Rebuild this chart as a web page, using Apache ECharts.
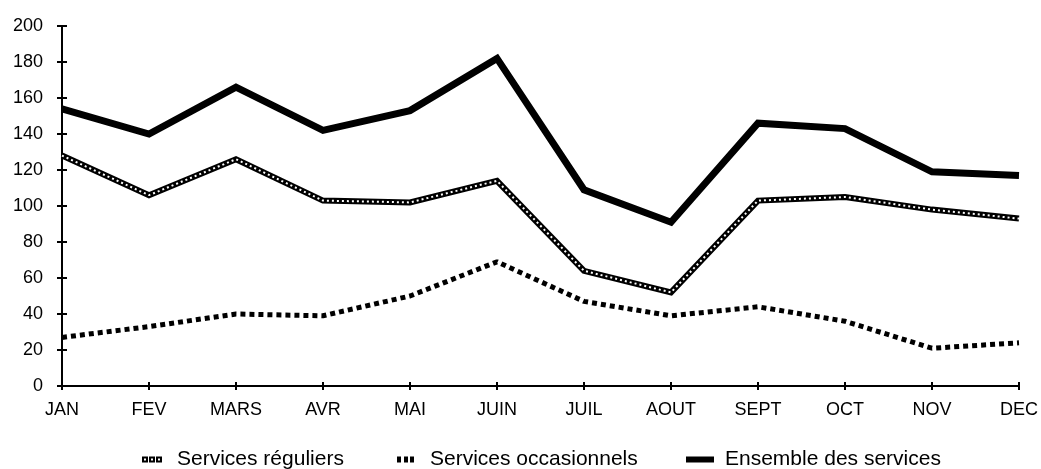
<!DOCTYPE html>
<html>
<head>
<meta charset="utf-8">
<script src="https://cdn.jsdelivr.net/npm/echarts@6/dist/echarts.min.js"></script>
<style>html,body{margin:0;padding:0;background:#fff}#c{width:1041px;height:469px}</style>
</head>
<body>
<div id="c"></div>
<script>
const months = ['JAN','FEV','MARS','AVR','MAI','JUIN','JUIL','AOUT','SEPT','OCT','NOV','DEC'];
const reguliers = [128, 106, 126, 103, 102, 114, 64, 52, 103, 105, 98, 93];
const occasionnels = [27, 33, 40, 39, 50, 69, 47, 39, 44, 36, 21, 24];
const ensemble = [154, 140, 166, 142, 153, 182, 109, 91, 146, 143, 119, 117];
const yTicks = [0, 20, 40, 60, 80, 100, 120, 140, 160, 180, 200];

const FONT = '"Liberation Sans", Arial, sans-serif';
const chart = echarts.init(document.getElementById('c'), null, {renderer: 'canvas'});

const baseX = {
  type: 'category', data: months, boundaryGap: false,
  axisLine: {lineStyle: {color: '#000', width: 2}},
  splitLine: {show: false}
};
const baseY = {
  type: 'value', min: yTicks[0], max: yTicks[yTicks.length - 1], interval: 20,
  axisLine: {show: true, lineStyle: {color: '#000', width: 2}},
  splitLine: {show: false}
};
function legendText(padLeft) {
  return {color: '#000', fontSize: 21, fontFamily: FONT, padding: [0, 0, 0, padLeft]};
}

chart.setOption({
  animation: false,
  grid: {left: 62, right: 22, top: 26, bottom: 83},
  xAxis: [
    Object.assign({}, baseX, {
      axisTick: {show: true, inside: false, length: 4, lineStyle: {color: '#000', width: 2}},
      axisLabel: {color: '#000', fontSize: 18, fontFamily: FONT, margin: 15}
    }),
    Object.assign({}, baseX, {
      position: 'bottom',
      axisTick: {show: true, inside: true, length: 4, lineStyle: {color: '#000', width: 2}},
      axisLabel: {show: false}
    })
  ],
  yAxis: [
    Object.assign({}, baseY, {
      axisTick: {show: true, inside: false, length: 5, lineStyle: {color: '#000', width: 2}},
      axisLabel: {color: '#000', fontSize: 18, fontFamily: FONT, margin: 19}
    }),
    Object.assign({}, baseY, {
      position: 'left',
      axisTick: {show: true, inside: true, length: 5, lineStyle: {color: '#000', width: 2}},
      axisLabel: {show: false}
    })
  ],
  legend: [
    {data: [{name: 'Services réguliers', icon: 'path://M0,0h6v6h-6z M2,2v2h2v-2z M7,0h6v6h-6z M9,2v2h2v-2z M14,0h6v6h-6z M16,2v2h2v-2z'}],
     left: 137, top: 444, itemWidth: 20, itemHeight: 6, textStyle: legendText(10), selectedMode: false},
    {data: [{name: 'Services occasionnels', icon: 'path://M0,0h4v6h-4z M7,0h4v6h-4z M13,0h4v6h-4z'}],
     left: 392, top: 444, itemWidth: 17, itemHeight: 6, textStyle: legendText(11), selectedMode: false},
    {data: [{name: 'Ensemble des services', icon: 'rect'}],
     left: 681, top: 444, itemWidth: 28, itemHeight: 6, textStyle: legendText(6), selectedMode: false}
  ],
  series: [
    {name: 'Services réguliers', type: 'line', data: reguliers, symbol: 'none',
     itemStyle: {color: '#000'},
     lineStyle: {color: '#000', width: 6, join: 'miter'}},
    {name: 'reg-inner', type: 'line', data: reguliers, symbol: 'none', silent: true,
     lineStyle: {color: '#fff', width: 2, type: [2, 3], cap: 'butt'}},
    {name: 'Services occasionnels', type: 'line', data: occasionnels, symbol: 'none',
     itemStyle: {color: '#000'},
     lineStyle: {color: '#000', width: 5, type: [5, 4], cap: 'butt'}},
    {name: 'Ensemble des services', type: 'line', data: ensemble, symbol: 'none',
     itemStyle: {color: '#000'},
     lineStyle: {color: '#000', width: 7, join: 'miter'}}
  ]
});
</script>
</body>
</html>
